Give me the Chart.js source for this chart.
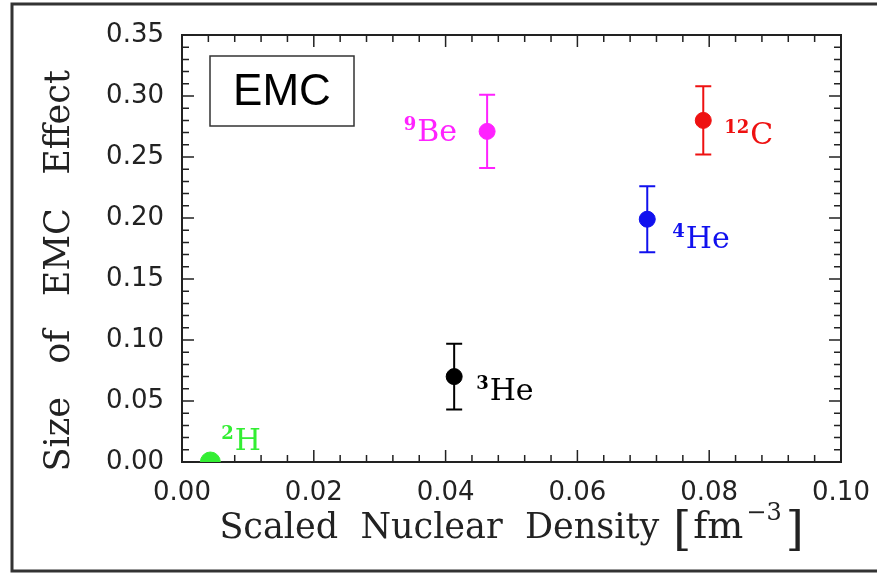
<!DOCTYPE html>
<html>
<head>
<meta charset="utf-8">
<script src="https://cdn.jsdelivr.net/npm/chart.js@4.4.0/dist/chart.umd.min.js"></script>
<style>
  html, body { margin: 0; padding: 0; background: #fff; }
</style>
</head>
<body>
<canvas id="emcChart" width="877" height="575"></canvas>
<script>
// data
const massNumber = ["2", "3", "4", "9", "12"];
const element = ["H", "He", "He", "Be", "C"];
const density = [0.0043, 0.0413, 0.0706, 0.0463, 0.0791];
const emcSize = [0.000, 0.070, 0.199, 0.271, 0.280];
const emcError = [0, 0.027, 0.027, 0.030, 0.028];
const xTicks = [0.00, 0.02, 0.04, 0.06, 0.08, 0.10];
const yTicks = [0.00, 0.05, 0.10, 0.15, 0.20, 0.25, 0.30, 0.35];
const xTitle = ["Scaled  Nuclear  Density", "[", "fm", "−3", "]"];

const colors = ["#33ee33", "#000000", "#1111ee", "#ff22ff", "#ee1111"];
const radius = [10, 8, 8, 8, 8];
// label placement next to each point: [dx, dy, align]
const labelPos = [[11, -12, "left"], [22, 23, "left"], [25, 29, "left"], [-30, 10, "right"], [21, 24, "left"]];

const serif = "'DejaVu Serif', serif";
const sans = "'DejaVu Sans', sans-serif";

const frame = {
  id: "frame",
  beforeDatasetsDraw(chart) {
    const { ctx, chartArea: a, scales: { x, y } } = chart;
    ctx.save();
    // outer picture border
    ctx.strokeStyle = "#333";
    ctx.lineWidth = 3;
    ctx.beginPath();
    ctx.moveTo(877, 4); ctx.lineTo(12, 4); ctx.lineTo(12, 571); ctx.lineTo(877, 571);
    ctx.stroke();

    // plot box
    ctx.strokeStyle = "#222";
    ctx.lineWidth = 2;
    ctx.strokeRect(a.left, a.top, a.right - a.left, a.bottom - a.top);

    // inward ticks on all four sides
    ctx.lineWidth = 1.5;
    ctx.beginPath();
    for (let i = 0; i <= 25; i++) {
      const px = x.getPixelForValue(i * 0.004);
      const len = i % 5 === 0 ? 12 : 7;
      ctx.moveTo(px, a.bottom); ctx.lineTo(px, a.bottom - len);
      ctx.moveTo(px, a.top); ctx.lineTo(px, a.top + len);
    }
    for (let i = 0; i <= 35; i++) {
      const py = y.getPixelForValue(i * 0.01);
      const len = i % 5 === 0 ? 12 : 7;
      ctx.moveTo(a.left, py); ctx.lineTo(a.left + len, py);
      ctx.moveTo(a.right, py); ctx.lineTo(a.right - len, py);
    }
    ctx.stroke();

    // error bars
    ctx.lineWidth = 2;
    density.forEach((d, i) => {
      if (!emcError[i]) return;
      const px = x.getPixelForValue(d);
      const top = y.getPixelForValue(emcSize[i] + emcError[i]);
      const bot = y.getPixelForValue(emcSize[i] - emcError[i]);
      ctx.strokeStyle = colors[i];
      ctx.beginPath();
      ctx.moveTo(px, top); ctx.lineTo(px, bot);
      ctx.moveTo(px - 8, top); ctx.lineTo(px + 8, top);
      ctx.moveTo(px - 8, bot); ctx.lineTo(px + 8, bot);
      ctx.stroke();
    });

    // EMC box
    ctx.fillStyle = "#fff";
    ctx.strokeStyle = "#333";
    ctx.lineWidth = 1.5;
    ctx.fillRect(a.left + 28, a.top + 21, 144, 70);
    ctx.strokeRect(a.left + 28, a.top + 21, 144, 70);
    ctx.fillStyle = "#000";
    ctx.font = "44px 'Liberation Sans', Arial, sans-serif";
    ctx.textAlign = "center";
    ctx.textBaseline = "middle";
    ctx.fillText("EMC", a.left + 100, a.top + 58);
    ctx.restore();
  },
  afterDatasetsDraw(chart) {
    const { ctx, chartArea: a, scales: { x, y } } = chart;
    ctx.save();
    ctx.textBaseline = "alphabetic";
    ctx.textAlign = "left";
    density.forEach((d, i) => {
      const [dx, dy, align] = labelPos[i];
      const px = x.getPixelForValue(d) + dx;
      const py = y.getPixelForValue(emcSize[i]) + dy;
      ctx.font = "bold 18px " + serif;
      const wSup = ctx.measureText(massNumber[i]).width;
      ctx.font = "30px " + serif;
      const wEl = ctx.measureText(element[i]).width;
      const start = align === "right" ? px - wSup - wEl - 1 : px;
      ctx.fillStyle = colors[i];
      ctx.font = "bold 18px " + serif;
      ctx.fillText(massNumber[i], start, py - 11);
      ctx.font = "30px " + serif;
      ctx.fillText(element[i], start + wSup + 1, py);
    });

    // x axis title with bracketed unit
    const parts = [
      { t: xTitle[0], f: "35px " + serif, dy: 0, gap: 14 },
      { t: xTitle[1], f: "46px " + serif, dy: 7, gap: 2 },
      { t: xTitle[2], f: "38px " + serif, dy: 0, gap: 3 },
      { t: xTitle[3], f: "24px " + serif, dy: -18, gap: 4 },
      { t: xTitle[4], f: "46px " + serif, dy: 7, gap: 0 },
    ];
    let total = 0;
    parts.forEach(p => { ctx.font = p.f; p.w = ctx.measureText(p.t).width; total += p.w + p.gap; });
    let cx = (a.left + a.right) / 2 - total / 2;
    const base = x.bottom - 37;
    ctx.fillStyle = "#222";
    parts.forEach(p => {
      ctx.font = p.f;
      ctx.fillText(p.t, cx, base + p.dy);
      cx += p.w + p.gap;
    });
    ctx.restore();
  }
};

new Chart(document.getElementById("emcChart"), {
  type: "scatter",
  data: {
    datasets: [{
      data: density.map((d, i) => ({ x: d, y: emcSize[i] })),
      pointBackgroundColor: colors,
      pointBorderColor: colors,
      pointRadius: radius,
      pointHoverRadius: radius,
    }],
  },
  options: {
    responsive: false,
    animation: false,
    devicePixelRatio: 1,
    layout: { padding: { top: 35, right: 36, left: 0, bottom: 0 } },
    plugins: { legend: { display: false }, tooltip: { enabled: false } },
    scales: {
      x: {
        type: "linear",
        min: 0,
        max: 0.1,
        afterBuildTicks: s => { s.ticks = xTicks.map(v => ({ value: v })); },
        afterFit: s => { s.height = 113; s.paddingLeft = 0; s.paddingRight = 0; },
        ticks: { color: "#222", font: { family: sans, size: 26 }, padding: 16, maxRotation: 0, callback: v => v.toFixed(2) },
        grid: { display: false, drawTicks: false },
        border: { display: false },
      },
      y: {
        type: "linear",
        min: 0,
        max: 0.35,
        afterBuildTicks: s => { s.ticks = yTicks.map(v => ({ value: v })); },
        afterFit: s => { s.width = 182; s.paddingTop = 0; s.paddingBottom = 0; },
        ticks: { color: "#222", font: { family: sans, size: 26 }, padding: 18, callback: v => v.toFixed(2) },
        grid: { display: false, drawTicks: false },
        border: { display: false },
        title: { display: true, text: "Size   of   EMC   Effect    ", color: "#222", font: { family: serif, size: 35 }, padding: { top: 39, bottom: 0 } },
      },
    },
  },
  plugins: [frame],
});
</script>
</body>
</html>
